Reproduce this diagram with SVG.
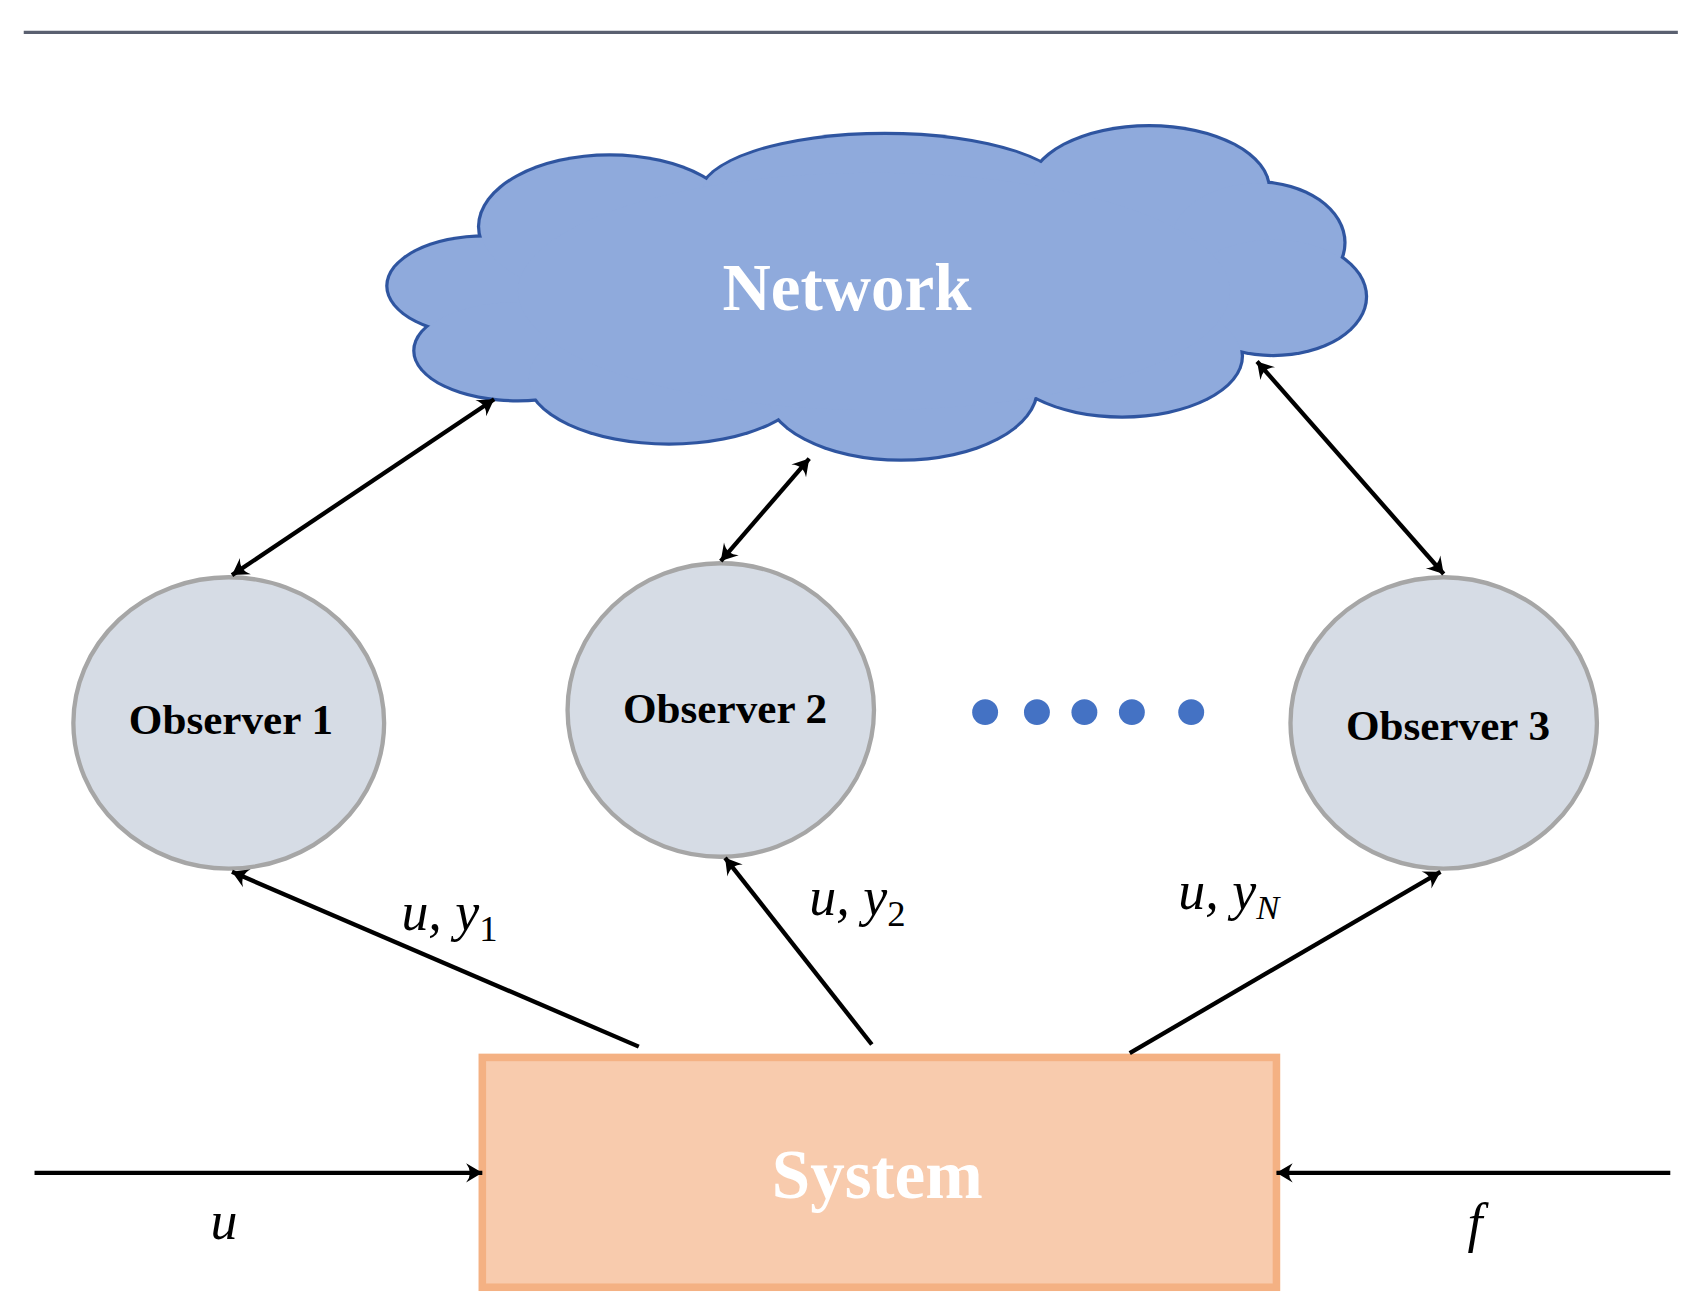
<svg xmlns="http://www.w3.org/2000/svg" width="1692" height="1312" viewBox="0 0 1692 1312">
<style>
.obs{fill:#d6dce5;stroke:#a6a6a6;stroke-width:4}
.ot{font-family:"Liberation Serif",serif;font-weight:bold;font-size:40px;fill:#000;text-anchor:middle}
.m{font-family:"Liberation Serif",serif;font-style:italic;font-size:50px;fill:#000}
.c{stroke:#000;stroke-width:4;fill:none}
.cb ellipse{fill:#2f55a0}
.cf ellipse{fill:#8faadc}
</style>
<defs>
<marker id="ah" viewBox="-16 -10 18 20" refX="0" refY="0" markerWidth="18" markerHeight="20" markerUnits="userSpaceOnUse" orient="auto-start-reverse">
<path d="M0,0 L-15,-9 Q-8,0 -15,9 Z" fill="#000"/>
</marker>
</defs>
<rect width="1692" height="1312" fill="#fff"/>
<g transform="scale(1.079)">
<line x1="22" y1="30" x2="1555" y2="30" stroke="#5a6070" stroke-width="3"/>
<g id="network">
<g class="cb">
<ellipse cx="450" cy="265" rx="93" ry="48"/><ellipse cx="480" cy="325" rx="98" ry="48"/>
<ellipse cx="565" cy="210" rx="123" ry="68"/><ellipse cx="620" cy="350" rx="133" ry="63"/>
<ellipse cx="820" cy="180" rx="173" ry="58"/><ellipse cx="1065" cy="175" rx="113" ry="60"/>
<ellipse cx="1165" cy="225" rx="83" ry="58"/><ellipse cx="1180" cy="275" rx="88" ry="56"/>
<ellipse cx="835" cy="360" rx="128" ry="68"/><ellipse cx="1040" cy="330" rx="113" ry="58"/>
</g>
<g class="cf">
<ellipse cx="450" cy="265" rx="90" ry="45"/><ellipse cx="480" cy="325" rx="95" ry="45"/>
<ellipse cx="565" cy="210" rx="120" ry="65"/><ellipse cx="620" cy="350" rx="130" ry="60"/>
<ellipse cx="820" cy="180" rx="170" ry="55"/><ellipse cx="1065" cy="175" rx="110" ry="57"/>
<ellipse cx="1165" cy="225" rx="80" ry="55"/><ellipse cx="1180" cy="275" rx="85" ry="53"/>
<ellipse cx="835" cy="360" rx="125" ry="65"/><ellipse cx="1040" cy="330" rx="110" ry="55"/>
<ellipse cx="810" cy="270" rx="330" ry="110"/>
</g>
<text x="785" y="287" font-family="Liberation Serif,serif" font-weight="bold" font-size="62" fill="#fff" text-anchor="middle">Network</text>
</g>
<g id="obs1"><ellipse class="obs" cx="212" cy="670" rx="144" ry="135"/><text class="ot" x="214" y="680">Observer 1</text></g>
<g id="obs2"><ellipse class="obs" cx="668" cy="658" rx="142" ry="136"/><text class="ot" x="672" y="670">Observer  2</text></g>
<g id="obs3"><ellipse class="obs" cx="1338" cy="670" rx="142" ry="135"/><text class="ot" x="1342" y="686">Observer  3</text></g>
<g id="dots" fill="#4472c4"><circle cx="913" cy="660" r="12"/><circle cx="961" cy="660" r="12"/><circle cx="1005" cy="660" r="12"/><circle cx="1049" cy="660" r="12"/><circle cx="1104" cy="660" r="12"/></g>
<g id="system"><rect x="447" y="980" width="736" height="213" fill="#f8cbad" stroke="#f4b183" stroke-width="7"/>
<text x="813" y="1110" font-family="Liberation Serif,serif" font-weight="bold" font-size="64" fill="#fff" text-anchor="middle">System</text></g>
<g id="connectors">
<line class="c" x1="32" y1="1087" x2="447" y2="1087" marker-end="url(#ah)"/>
<line class="c" x1="1548" y1="1087" x2="1183" y2="1087" marker-end="url(#ah)"/>
<line class="c" x1="592" y1="970" x2="215" y2="808" marker-end="url(#ah)"/>
<line class="c" x1="808" y1="968" x2="672" y2="795" marker-end="url(#ah)"/>
<line class="c" x1="1047" y1="976" x2="1335" y2="808" marker-end="url(#ah)"/>
<line class="c" x1="215" y1="533" x2="458" y2="370" marker-start="url(#ah)" marker-end="url(#ah)"/>
<line class="c" x1="668" y1="520" x2="750" y2="425" marker-start="url(#ah)" marker-end="url(#ah)"/>
<line class="c" x1="1338" y1="532" x2="1165" y2="335" marker-start="url(#ah)" marker-end="url(#ah)"/>
</g>
<g id="labels">
<text class="m" x="195" y="1148">u</text>
<text class="m" x="1360" y="1150">f</text>
<text class="m" x="372" y="862">u, y<tspan font-size="34" font-style="normal" dy="10">1</tspan></text>
<text class="m" x="750" y="848">u, y<tspan font-size="34" font-style="normal" dy="10">2</tspan></text>
<text class="m" x="1092" y="842" font-size="44">u, y<tspan font-size="32" dy="10">N</tspan></text>
</g>
</g>
</svg>
